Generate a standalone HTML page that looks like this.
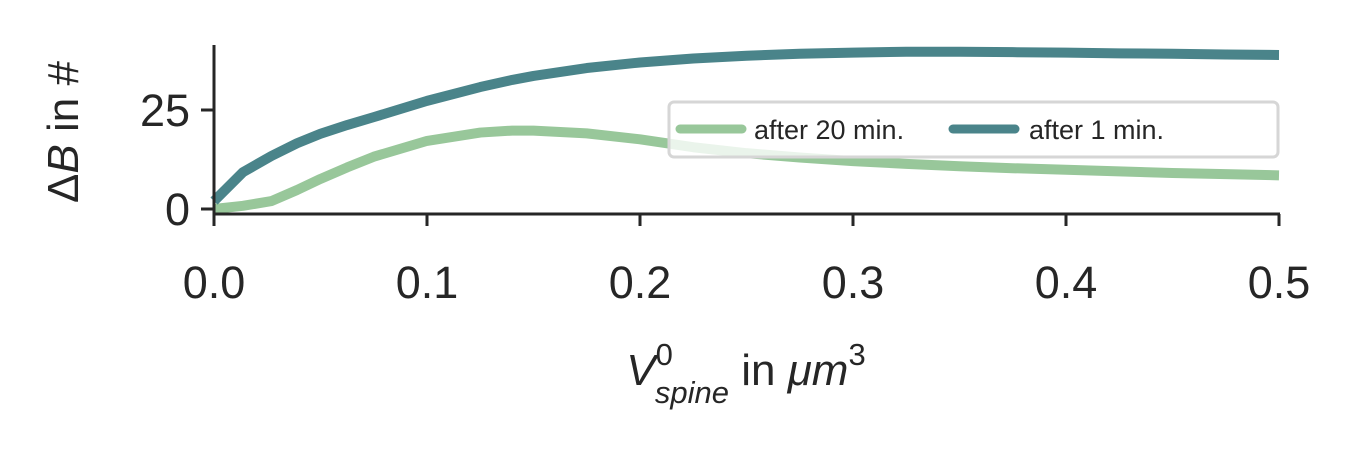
<!DOCTYPE html>
<html><head><meta charset="utf-8"><style>
body{margin:0;background:#fff;}
svg text{font-family:"Liberation Sans",sans-serif;fill:#262626;}
</style></head><body>
<svg width="1357" height="449" xmlns="http://www.w3.org/2000/svg">
<g id="plot"></g>
</svg>
<script>
const xVals=[0,0.0136,0.027,0.039,0.05,0.0625,0.075,0.1,0.125,0.14,0.15,0.175,0.2,0.225,0.25,0.275,0.3,0.325,0.35,0.375,0.4,0.425,0.45,0.475,0.5];
const after1=[2,9.3,13.4,16.6,19,21.2,23.2,27.3,30.8,32.6,33.6,35.6,37,38,38.7,39.2,39.5,39.7,39.7,39.6,39.5,39.3,39.2,39,38.9];
const after20=[0,0.8,2,4.8,7.6,10.5,13.2,17.2,19.3,19.8,19.8,19.1,17.6,15.6,14.1,13,12.1,11.4,10.8,10.3,9.9,9.5,9.1,8.8,8.5];
const xTicks=[0,0.1,0.2,0.3,0.4,0.5];
const xTickLabels=["0.0","0.1","0.2","0.3","0.4","0.5"];
const yTicks=[0,25];
const ns="http://www.w3.org/2000/svg";
const g=document.getElementById('plot');
const X=v=>214+v/0.5*1065;
const Y=v=>209-v*3.96;
function mk(t,a){const e=document.createElementNS(ns,t);for(const k in a)e.setAttribute(k,a[k]);g.appendChild(e);return e;}
function line(vals,color,name){
  const p=mk('polyline',{points:xVals.map((x,i)=>X(x)+','+Y(vals[i])).join(' '),fill:'none',stroke:color,'stroke-width':10,'stroke-linejoin':'round'});
  
  
}
line(after20,'#98c79a','series-after-20-min');
line(after1,'#4a848a','series-after-1-min');
let a=mk('line',{x1:214,y1:45,x2:214,y2:214,stroke:'#262626','stroke-width':3});

a=mk('line',{x1:212.5,y1:214,x2:1280,y2:214,stroke:'#262626','stroke-width':3});

xTicks.forEach((v,i)=>{
  const t=mk('line',{x1:X(v),y1:214,x2:X(v),y2:226,stroke:'#262626','stroke-width':3});
  
  const l=mk('text',{x:X(v),y:298,'font-size':45,'text-anchor':'middle'});l.textContent=xTickLabels[i];
  
});
yTicks.forEach(v=>{
  const t=mk('line',{x1:201,y1:Y(v),x2:214,y2:Y(v),stroke:'#262626','stroke-width':3});
  
  const l=mk('text',{x:190,y:Y(v)+16,'font-size':45,'text-anchor':'end'});l.textContent=String(v);
  
});
const lg=mk('rect',{x:669,y:102,width:609,height:55,rx:5,fill:'rgba(255,255,255,0.8)',stroke:'#d6d6d6','stroke-width':3});

let s=mk('line',{x1:680,y1:129,x2:742,y2:129,stroke:'#98c79a','stroke-width':9,'stroke-linecap':'round'});

let t=mk('text',{x:754,y:139,'font-size':27});t.textContent='after 20 min.';

s=mk('line',{x1:953,y1:129,x2:1015,y2:129,stroke:'#4a848a','stroke-width':9,'stroke-linecap':'round'});

t=mk('text',{x:1029,y:139,'font-size':27});t.textContent='after 1 min.';

t=mk('text',{x:0,y:0,'font-size':44,'text-anchor':'middle',transform:'translate(78,132) rotate(-90)'});
t.innerHTML='Δ<tspan font-style="italic">B</tspan> in #';

t=mk('text',{x:746,y:385,'font-size':44,'text-anchor':'middle'});
t.innerHTML='<tspan font-style="italic">V</tspan><tspan font-size="31" dy="-20">0</tspan><tspan font-size="31" font-style="italic" dx="-18" dy="38">spine</tspan><tspan dy="-18"> in </tspan><tspan font-style="italic">μm</tspan><tspan font-size="31" dy="-20">3</tspan>';

</script>
</body></html>
